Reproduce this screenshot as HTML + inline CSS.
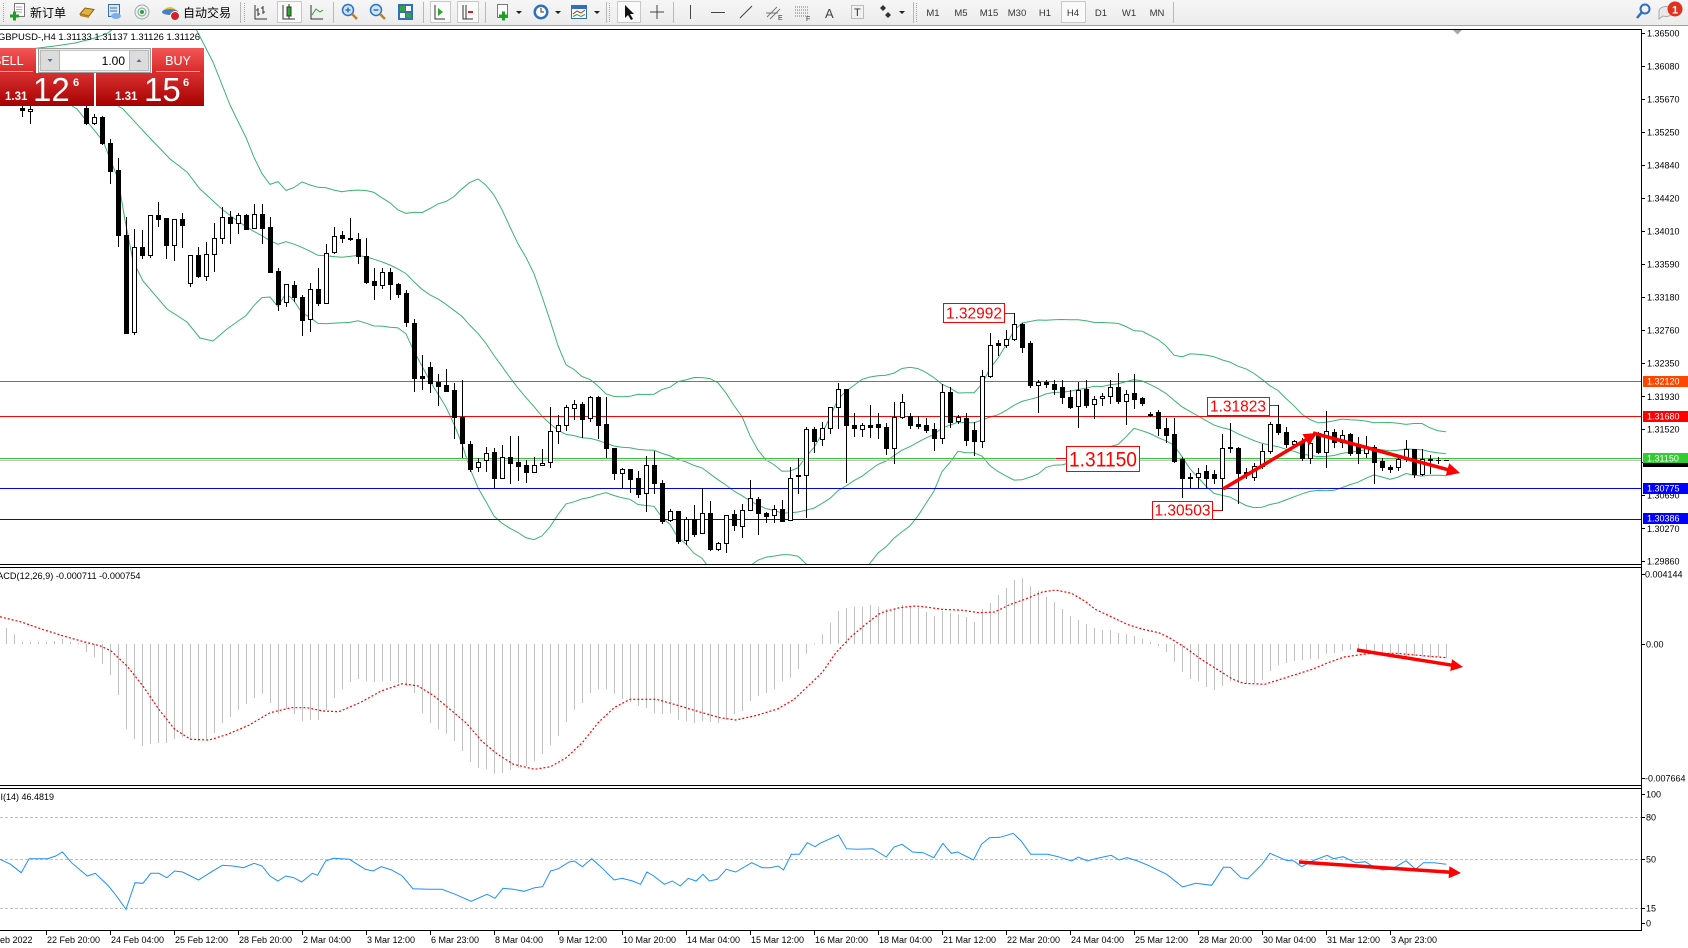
<!DOCTYPE html>
<html><head><meta charset="utf-8"><title>GBPUSD H4</title>
<style>
html,body{margin:0;padding:0;background:#fff;overflow:hidden;width:1688px;height:948px}
svg{display:block}
text{font-family:"Liberation Sans","Noto Sans CJK SC",sans-serif}
</style></head><body>
<svg width="1688" height="948" viewBox="0 0 1688 948" xmlns="http://www.w3.org/2000/svg">
<defs>
<clipPath id="cm"><rect x="0" y="30" width="1641" height="534"/></clipPath>
<clipPath id="cd"><rect x="0" y="568" width="1641" height="217"/></clipPath>
<clipPath id="cr"><rect x="0" y="789" width="1641" height="141"/></clipPath>
<linearGradient id="gb" x1="0" y1="0" x2="0" y2="1"><stop offset="0" stop-color="#f45656"/><stop offset="1" stop-color="#d82828"/></linearGradient>
<linearGradient id="gp" x1="0" y1="0" x2="0" y2="1"><stop offset="0" stop-color="#d83030"/><stop offset="1" stop-color="#a60000"/></linearGradient>
<linearGradient id="tb" x1="0" y1="0" x2="0" y2="1"><stop offset="0" stop-color="#f6f6f6"/><stop offset="1" stop-color="#ececec"/></linearGradient>
</defs>
<rect width="1688" height="948" fill="#fff"/>

<!-- TOOLBAR -->
<rect x="0" y="0" width="1688" height="25" fill="url(#tb)"/>
<rect x="0" y="25" width="1688" height="1" fill="#a0a0a0"/>
<g stroke="#a0a0a0" stroke-dasharray="1 1">
<line x1="3.5" y1="3" x2="3.5" y2="22"/><line x1="244.5" y1="3" x2="244.5" y2="22"/>
<line x1="609.5" y1="3" x2="609.5" y2="22"/><line x1="916.5" y1="3" x2="916.5" y2="22"/>
</g>
<g fill="#b8b8b8">
<rect x="240" y="2" width="1" height="21"/><rect x="333" y="2" width="1" height="21"/><rect x="423" y="2" width="1" height="21"/>
<rect x="485" y="2" width="1" height="21"/><rect x="606" y="2" width="1" height="21"/><rect x="673" y="2" width="1" height="21"/>
<rect x="913" y="2" width="1" height="21"/><rect x="1173" y="2" width="1" height="21"/>
</g>
<!-- new order -->
<rect x="14.5" y="3.5" width="10" height="13" fill="#fff" stroke="#777"/>
<path d="M16 7h6M16 9.5h6M16 12h6" stroke="#aaa"/>
<path d="M10 16h9M14.5 11.5v9" stroke="#1f9f1f" stroke-width="3"/>
<text x="30" y="17" font-size="12" fill="#000">新订单</text>
<path d="M80 14 L85 8 L94 9.5 L89 16 Z" fill="#e0b040" stroke="#8a6010"/><path d="M80 14 L89 16 L89 18 L80 16 Z" fill="#b88820"/>
<rect x="108.5" y="4.5" width="11" height="12" fill="#dbe9f7" stroke="#3a6ea8"/><path d="M110 8h7M110 11h7" stroke="#3a6ea8"/><ellipse cx="116" cy="16" rx="5" ry="3" fill="#7ab0e8"/>
<circle cx="142" cy="12" r="7" fill="none" stroke="#9aa"/><circle cx="142" cy="12" r="4" fill="none" stroke="#7a9"/><circle cx="142" cy="12" r="2" fill="#3a9a3a"/>
<path d="M162 12 Q170 2 178 12 Z" fill="#e8c030"/><ellipse cx="170" cy="12" rx="8" ry="3" fill="#4a7fc8"/><circle cx="175" cy="16" r="4.5" fill="#d82020" stroke="#fff"/>
<text x="183" y="17" font-size="12" fill="#000">自动交易</text>
<!-- chart type -->
<path d="M255 5v14h12M258 8v8M256 10h2M258 14h2M263 6v8M261 8h2M263 12h2" stroke="#333" fill="none"/>
<rect x="277.5" y="1.5" width="24" height="21" fill="#fafafa" stroke="#c8c8c8"/>
<path d="M283 5v14h12" stroke="#333" fill="none"/><path d="M289 4v15" stroke="#333"/><rect x="287" y="7" width="4" height="9" fill="#2da82d" stroke="#333"/>
<path d="M311 5v14h12" stroke="#333" fill="none"/><path d="M312 15 L316 9 L320 12 L323 10" stroke="#2da82d" fill="none"/>
<circle cx="348" cy="10" r="5.5" fill="#cfe6ff" stroke="#2e6fc0" stroke-width="1.5"/><path d="M352 14 L357 19" stroke="#c08020" stroke-width="2.5"/><path d="M345.5 10h5M348 7.5v5" stroke="#2e6fc0" stroke-width="1.5"/>
<circle cx="376" cy="10" r="5.5" fill="#cfe6ff" stroke="#2e6fc0" stroke-width="1.5"/><path d="M380 14 L385 19" stroke="#c08020" stroke-width="2.5"/><path d="M373.5 10h5" stroke="#2e6fc0" stroke-width="1.5"/>
<rect x="398" y="4" width="15" height="16" fill="#2f6fc0"/><rect x="400" y="6" width="5" height="5" fill="#3aa040"/><rect x="406" y="6" width="5" height="5" fill="#fff"/><rect x="400" y="13" width="5" height="5" fill="#fff"/><rect x="406" y="13" width="5" height="5" fill="#3aa040"/>
<rect x="430.5" y="1.5" width="20" height="21" fill="#fafafa" stroke="#c8c8c8"/><path d="M435 5v14h10" stroke="#333" fill="none"/><path d="M438 8v8l5-4z" fill="#2da82d"/>
<rect x="457.5" y="1.5" width="21" height="21" fill="#fafafa" stroke="#c8c8c8"/><path d="M463 5v14h10M466 5v14" stroke="#333" fill="none"/><path d="M468 12h5" stroke="#d02020" stroke-width="2"/>
<rect x="497.5" y="4.5" width="10" height="13" fill="#fff" stroke="#777"/><path d="M499 16h9M503.5 11.5v9" stroke="#1f9f1f" stroke-width="3"/>
<circle cx="541" cy="12" r="7.5" fill="#2f6fc0"/><circle cx="541" cy="12" r="5" fill="#fff"/><path d="M541 8v4h3" stroke="#333" fill="none"/>
<rect x="571.5" y="5.5" width="15" height="13" fill="#fff" stroke="#2f6fc0"/><rect x="572" y="6" width="14" height="3" fill="#2f6fc0"/><path d="M573 14 L577 11 L581 13 L585 10" stroke="#c03030" fill="none"/><path d="M573 16.5 L577 14.5 L581 16.5 L585 14.5" stroke="#30a030" fill="none"/>
<path d="M516 11h6l-3 3z M555 11h6l-3 3z M594 11h6l-3 3z M899 11h6l-3 3z" fill="#222"/>
<rect x="617.5" y="1.5" width="23" height="21" fill="#fafafa" stroke="#c8c8c8"/>
<path d="M625 5 L625 18 L628 15 L631 20 L633 19 L630 14 L634 14 Z" fill="#111"/>
<path d="M657 5v14M650 12h14" stroke="#444"/>
<path d="M690.5 5v14M711 12.5h14M740 18 L752 6" stroke="#444"/>
<path d="M767 17 L777 7M770 19 L780 9M766 13h12" stroke="#777"/><text x="778" y="20" font-size="7" fill="#333">E</text>
<path d="M795 7h13M795 10h13M795 13h13M795 16h13" stroke="#777" stroke-dasharray="1 1"/><text x="806" y="21" font-size="7" fill="#333">F</text>
<text x="825" y="18" font-size="13" fill="#444">A</text>
<rect x="851.5" y="5.5" width="12" height="13" fill="none" stroke="#888" stroke-dasharray="1 1"/><text x="854" y="16" font-size="11" fill="#333">T</text>
<path d="M880 8l3-3 3 3-3 3z M885 15l3-3 3 3-3 3z" fill="#333"/>
<g font-size="9.5" fill="#333" text-anchor="middle">
<rect x="1061.5" y="1.5" width="24" height="21" fill="#fafafa" stroke="#c8c8c8"/>
<text x="933" y="16">M1</text><text x="961" y="16">M5</text><text x="989" y="16">M15</text><text x="1017" y="16">M30</text><text x="1045" y="16">H1</text><text x="1073" y="16">H4</text><text x="1101" y="16">D1</text><text x="1129" y="16">W1</text><text x="1157" y="16">MN</text>
</g>
<circle cx="1645" cy="9" r="4.5" fill="none" stroke="#2f6fc0" stroke-width="2"/><path d="M1642 12 L1637 18" stroke="#2f6fc0" stroke-width="2.5"/>
<path d="M1659 11 a7 5 0 1 1 4 5 l-4 3 z" fill="#e8e8e8" stroke="#aaa"/>
<circle cx="1675" cy="9" r="7.5" fill="#e0301e"/><text x="1675" y="13.5" font-size="11" font-weight="bold" fill="#fff" text-anchor="middle">1</text>

<!-- CHART FRAME -->
<g shape-rendering="crispEdges" fill="#000">
<rect x="0" y="29" width="1642" height="1"/>
<rect x="1641" y="29" width="1" height="902"/>
<rect x="0" y="564" width="1642" height="1"/>
<rect x="0" y="567" width="1642" height="1"/>
<rect x="0" y="785" width="1642" height="1"/>
<rect x="0" y="788" width="1642" height="1"/>
<rect x="0" y="930" width="1642" height="1"/>
</g>
<path d="M1453 30h9l-4.5 4.5z" fill="#a8a8a8"/>

<!-- MAIN CHART -->
<g clip-path="url(#cm)">
<g id="bands" fill="none" stroke="#3cb371" stroke-width="1"></g>
<g shape-rendering="crispEdges">
<rect x="0" y="381" width="1641" height="1" fill="#ff4500"/>
<rect x="0" y="416" width="1641" height="1" fill="#ff0000"/>
<rect x="0" y="460" width="1641" height="1" fill="#c0c0c0"/>
<rect x="0" y="458" width="1641" height="1" fill="#32cd32"/>
<rect x="0" y="488" width="1641" height="1" fill="#0000ff"/>
<rect x="0" y="519" width="1641" height="1" fill="#0000ff"/>
</g>
<g id="candles" shape-rendering="crispEdges"></g>
<g id="arrowsM" fill="#ff0000"></g>
<!-- annotation labels -->
<g shape-rendering="crispEdges">
<rect x="1004" y="313" width="10" height="1" fill="#f00"/>
<rect x="943.5" y="303.5" width="61" height="19" fill="#fff" stroke="#f00"/>
<rect x="1269" y="405" width="9" height="1" fill="#f00"/>
<rect x="1207.5" y="397.5" width="62" height="18" fill="#fff" stroke="#f00"/>
<rect x="1212" y="510" width="10" height="1" fill="#f00"/>
<rect x="1152.5" y="501.5" width="60" height="18" fill="#fff" stroke="#f00"/>
<rect x="1056" y="458" width="10" height="1" fill="#f00"/>
<rect x="1066.5" y="446.5" width="73" height="25" fill="#fff" stroke="#f00"/>
</g>
<g fill="#f00">
<text x="946" y="318.5" font-size="16" textLength="56" lengthAdjust="spacingAndGlyphs">1.32992</text>
<text x="1210" y="411.5" font-size="16" textLength="56" lengthAdjust="spacingAndGlyphs">1.31823</text>
<text x="1154.5" y="515.5" font-size="16" textLength="56" lengthAdjust="spacingAndGlyphs">1.30503</text>
<text x="1069" y="466.5" font-size="21" textLength="68" lengthAdjust="spacingAndGlyphs">1.31150</text>
</g>
</g>
<text x="-2" y="40" font-size="9" fill="#000" textLength="202" lengthAdjust="spacingAndGlyphs">GBPUSD-,H4  1.31133 1.31137 1.31126 1.31126</text>

<!-- ONE CLICK PANEL -->
<rect x="-6" y="48" width="42" height="25" fill="url(#gb)"/>
<rect x="-3" y="71" width="36" height="1" fill="#f7a8a8"/>
<text x="-7" y="65" font-size="12.5" fill="#fff">SELL</text>
<rect x="38.5" y="48.5" width="112" height="24" fill="#ececec" stroke="#9c9c9c"/>
<rect x="59.5" y="50.5" width="70" height="20" fill="#fff" stroke="#c8c8c8"/>
<rect x="40.5" y="50.5" width="19" height="20" fill="#dcdcdc" stroke="#b8b8b8"/>
<rect x="129.5" y="50.5" width="19" height="20" fill="#dcdcdc" stroke="#b8b8b8"/>
<path d="M47.5 59h5l-2.5 3z" fill="#5a6aa0"/><path d="M136.5 62h5l-2.5-3z" fill="#5a6aa0"/>
<text x="125" y="65" font-size="12" text-anchor="end" fill="#000">1.00</text>
<rect x="152" y="48" width="52" height="25" fill="url(#gb)"/>
<rect x="156" y="71" width="44" height="1" fill="#f7a8a8"/>
<text x="178" y="65" font-size="12.5" fill="#fff" text-anchor="middle">BUY</text>
<rect x="-2" y="73" width="96" height="33" fill="url(#gp)"/>
<rect x="96" y="73" width="108" height="33" fill="url(#gp)"/>
<g fill="#fff">
<text x="5" y="100" font-size="11.5" font-weight="bold">1.31</text>
<text x="33" y="101" font-size="33">12</text>
<text x="73" y="86" font-size="11" font-weight="bold">6</text>
<text x="115" y="100" font-size="11.5" font-weight="bold">1.31</text>
<text x="144" y="101" font-size="33">15</text>
<text x="183" y="86" font-size="11" font-weight="bold">6</text>
</g>

<!-- PRICE AXIS -->
<g shape-rendering="crispEdges" fill="#000" id="pticks"></g>
<g font-size="9" fill="#000">
<text x="1647" y="36.5">1.36500</text><text x="1647" y="69.5">1.36080</text><text x="1647" y="102.5">1.35670</text>
<text x="1647" y="135.5">1.35250</text><text x="1647" y="168.5">1.34840</text><text x="1647" y="201.5">1.34420</text>
<text x="1647" y="234.5">1.34010</text><text x="1647" y="267.5">1.33590</text><text x="1647" y="300.5">1.33180</text>
<text x="1647" y="333.5">1.32760</text><text x="1647" y="366.5">1.32350</text><text x="1647" y="400">1.31930</text>
<text x="1647" y="432.5">1.31520</text><text x="1647" y="465.5">1.31100</text><text x="1647" y="498.5">1.30690</text>
<text x="1647" y="532">1.30270</text><text x="1647" y="564.5">1.29860</text>
</g>
<g shape-rendering="crispEdges">
<rect x="1643" y="376" width="45" height="11" fill="#ff4500"/>
<rect x="1643" y="411" width="45" height="11" fill="#ff0000"/>
<rect x="1643" y="455" width="45" height="12" fill="#000"/>
<rect x="1643" y="453" width="45" height="10" fill="#32cd32"/>
<rect x="1643" y="483" width="45" height="11" fill="#0000ff"/>
<rect x="1643" y="513" width="45" height="11" fill="#0000ff"/>
</g>
<g font-size="9" fill="#fff">
<text x="1647" y="384.5">1.32120</text><text x="1647" y="419.5">1.31680</text><text x="1647" y="461.5">1.31150</text>
<text x="1647" y="491.5">1.30775</text><text x="1647" y="521.5">1.30386</text>
</g>

<!-- MACD -->
<g clip-path="url(#cd)">
<g id="hist" shape-rendering="crispEdges" fill="#c0c0c0"></g>
<path id="sig" fill="none" stroke="#ff0000" stroke-width="1.2" stroke-dasharray="2 2"/>
<g id="arrowsD" fill="#ff0000"></g>
</g>
<text x="-10.5" y="579" font-size="9" fill="#000" textLength="151" lengthAdjust="spacingAndGlyphs">MACD(12,26,9) -0.000711 -0.000754</text>
<g font-size="9" fill="#000">
<text x="1645" y="577.5">0.004144</text><text x="1646" y="647.5">0.00</text><text x="1645" y="781.5">-0.007664</text>
</g>

<!-- RSI -->
<g clip-path="url(#cr)">
<g stroke="#c0c0c0" stroke-dasharray="3 2" shape-rendering="crispEdges">
<line x1="0" y1="817.5" x2="1641" y2="817.5"/><line x1="0" y1="859.5" x2="1641" y2="859.5"/><line x1="0" y1="908.5" x2="1641" y2="908.5"/>
</g>
<path id="rsi" fill="none" stroke="#1e90ff" stroke-width="1"/>
<g id="arrowsR" fill="#ff0000"></g>
</g>
<text x="-12" y="800" font-size="9" fill="#000">RSI(14) 46.4819</text>
<g font-size="9" fill="#000">
<text x="1646" y="797.5">100</text><text x="1646" y="820.5">80</text><text x="1646" y="862.5">50</text><text x="1646" y="911.5">15</text><text x="1646" y="926.5">0</text>
</g>

<!-- TIME AXIS -->
<g id="tticks" shape-rendering="crispEdges" fill="#000"></g>
<g font-size="9" fill="#000">
<text x="-18" y="943">21 Feb 2022</text><text x="47" y="943">22 Feb 20:00</text><text x="111" y="943">24 Feb 04:00</text>
<text x="175" y="943">25 Feb 12:00</text><text x="239" y="943">28 Feb 20:00</text><text x="303" y="943">2 Mar 04:00</text>
<text x="367" y="943">3 Mar 12:00</text><text x="431" y="943">6 Mar 23:00</text><text x="495" y="943">8 Mar 04:00</text>
<text x="559" y="943">9 Mar 12:00</text><text x="623" y="943">10 Mar 20:00</text><text x="687" y="943">14 Mar 04:00</text>
<text x="751" y="943">15 Mar 12:00</text><text x="815" y="943">16 Mar 20:00</text><text x="879" y="943">18 Mar 04:00</text>
<text x="943" y="943">21 Mar 12:00</text><text x="1007" y="943">22 Mar 20:00</text><text x="1071" y="943">24 Mar 04:00</text>
<text x="1135" y="943">25 Mar 12:00</text><text x="1199" y="943">28 Mar 20:00</text><text x="1263" y="943">30 Mar 04:00</text>
<text x="1327" y="943">31 Mar 12:00</text><text x="1391" y="943">3 Apr 23:00</text>
</g>
</svg>
<script>
(function(){
var raw="2 b 108 110 100 116|3 w 109 111 104 123|10 b 108 123 100 124|11 w 117 123 114 124|12 b 117 143 116 144|13 b 143 171 139 183|14 b 170 235 158 246|15 b 235 333 217 333|16 w 247 332 229 334|17 b 247 255 230 258|18 w 215 255 215 257|19 b 215 219 202 226|20 b 218 245 218 258|21 w 219 245 219 260|22 b 219 225 213 247|23 w 255 283 255 286|24 b 255 276 247 277|25 w 254 276 242 280|26 w 238 254 223 271|27 w 217 238 207 243|28 b 217 223 211 243|29 w 215 223 213 233|30 b 215 229 214 229|31 w 214 228 204 228|32 b 214 228 204 243|33 b 227 272 217 272|34 b 271 304 268 310|35 w 284 302 284 306|36 b 285 297 281 301|37 b 297 320 295 335|38 w 289 319 283 331|39 b 289 303 268 305|40 w 253 303 244 303|41 w 236 252 227 253|42 b 235 238 231 242|43 b 238 239 218 240|44 b 239 256 233 263|45 b 256 282 238 283|46 b 281 285 268 299|47 w 272 285 268 288|48 b 272 284 268 299|49 b 284 294 283 297|50 b 293 322 290 326|51 b 323 378 319 391|52 b 376 378 355 389|53 b 367 383 362 392|54 b 382 386 374 405|55 b 385 391 369 391|56 b 390 417 383 438|57 b 417 443 380 457|58 b 444 469 441 471|59 w 462 467 458 471|60 w 453 460 447 471|61 b 452 478 448 487|62 w 457 478 445 478|63 b 457 463 436 483|64 b 462 466 436 480|65 b 465 472 460 482|66 w 465 472 457 472|67 w 463 465 449 465|68 w 431 462 407 467|69 w 425 431 415 443|70 w 407 425 405 430|71 w 404 408 400 419|72 b 404 419 402 437|73 w 397 418 396 421|74 b 397 425 396 438|75 b 424 448 397 457|76 b 448 473 448 479|77 w 469 473 468 488|78 b 469 479 469 492|79 b 478 494 471 497|80 w 465 493 456 511|81 b 465 483 451 493|82 b 483 521 480 523|83 w 511 520 509 521|84 b 511 541 511 543|85 w 519 540 517 544|86 b 519 534 505 536|87 w 513 533 488 533|88 b 513 549 501 550|89 w 543 549 542 550|90 w 515 543 515 552|91 b 514 525 510 530|92 w 510 526 504 537|93 w 498 510 480 510|94 b 499 513 497 534|95 b 513 516 512 522|96 w 509 515 505 522|97 b 509 521 500 521|98 w 478 520 467 520|99 b 475 476 458 493|100 w 429 475 427 517|101 b 429 441 427 452|102 w 428 439 422 445|103 w 407 428 407 433|104 w 389 407 383 428|105 b 389 425 389 482|106 b 425 428 413 436|107 w 425 429 423 436|108 b 425 427 405 437|109 b 424 427 413 438|110 b 427 448 423 454|111 w 417 448 402 463|112 w 402 417 394 418|113 b 416 425 413 428|114 b 424 426 416 428|115 b 425 430 418 432|116 b 429 438 423 450|117 w 392 438 384 443|118 b 392 422 387 427|119 w 417 421 415 423|120 b 418 440 413 445|121 b 430 441 422 455|122 w 376 441 370 447|123 w 345 376 333 377|124 b 343 345 340 355|125 w 339 345 330 347|126 w 324 339 313 340|127 b 324 347 323 352|128 b 343 385 341 387|129 w 382 385 380 412|130 b 382 384 380 387|131 b 384 389 380 394|132 b 387 397 380 403|133 b 397 407 390 408|134 w 390 406 382 427|135 b 389 405 380 407|136 w 399 404 396 418|137 w 396 398 393 405|138 w 387 396 380 403|139 b 387 401 373 403|140 w 394 401 390 424|141 b 393 399 374 408|142 b 398 403 397 405|143 b 414 415 412 416|144 b 412 428 410 435|145 b 428 435 418 442|146 b 434 461 418 462|147 b 459 478 457 497|148 w 477 478 473 487|149 w 473 477 468 487|150 b 471 478 465 487|151 b 474 478 470 483|152 w 448 478 434 510|153 w 447 448 423 452|154 b 448 473 447 503|155 b 472 474 468 478|156 w 466 477 463 480|157 w 451 466 444 468|158 w 424 451 422 453|159 b 424 432 405 434|160 b 432 444 427 447|161 w 441 444 440 445|162 b 442 458 438 460|163 w 443 458 440 463|164 b 433 452 432 453|165 w 431 452 411 467|166 b 432 442 429 447|167 w 435 442 430 447|168 b 434 453 433 455|169 b 444 453 437 463|170 w 448 453 436 457|171 b 447 462 445 483|172 b 461 467 458 470|173 b 467 469 465 472|174 w 459 467 458 470|175 w 449 459 440 461|176 b 449 474 449 477|177 w 459 474 449 475|178 b 459 460 455 473|179 w 460 460 457 463|180 b 460 460 460 460";
function X(n){return 6+8*n;}
var C=raw.split('|').map(function(l){var a=l.split(' ');return {n:+a[0],t:a[1],bt:+a[2],bb:+a[3],wt:+a[4],wb:+a[5]};});
var s='',close={};
C.forEach(function(c){
  var x=X(c.n),h=c.bb-c.bt;
  close[c.n]=(c.t==='w')?c.bt:c.bb;
  s+='<rect x="'+x+'" y="'+c.wt+'" width="1" height="'+(c.wb-c.wt+1)+'" fill="#000"/>';
  if(c.t==='b'||h<2){s+='<rect x="'+(x-2)+'" y="'+c.bt+'" width="5" height="'+Math.max(1,h+1)+'" fill="#000"/>';}
  else{s+='<rect x="'+(x-1.5)+'" y="'+(c.bt+0.5)+'" width="4" height="'+h+'" fill="#fff" stroke="#000"/>';}
});
document.getElementById('candles').innerHTML=s;
// Bollinger
var up=[[196,29],[213,62],[230,105]],mid=[[118,106],[123,109],[147,135],[170,159],[187,172],[200,189],[223,210]],lo=[[72,106],[77,109],[103,141],[118,179],[125,220],[133,261],[143,281],[167,309],[187,322],[200,338],[213,341],[227,329]];
for(var n=29;n<=180;n++){var sum=0,i;for(i=n-19;i<=n;i++)sum+=close[i];var m=sum/20,v=0;for(i=n-19;i<=n;i++)v+=(close[i]-m)*(close[i]-m);var sd=Math.sqrt(v/20);
 up.push([X(n),m-2*sd]);mid.push([X(n),m]);lo.push([X(n),m+2*sd]);}
function P(a){return 'M'+a.map(function(p){return p[0].toFixed(1)+' '+p[1].toFixed(1);}).join('L');}
var seg1=[[30,49],[55,46],[75,43],[95,38],[108,33],[114,28]];
document.getElementById('bands').innerHTML='<path d="'+P(seg1)+'"/><path d="'+P(up)+'"/><path d="'+P(mid)+'"/><path d="'+P(lo)+'"/>';
// MACD histogram
var H=[185,203,228,228,228,228,226,220,228,232,258,272,293,328,388,488,518,540,535,532,530,520,512,520,525,518,500,472,452,432,415,395,385,410,443,430,445,465,462,462,432,395,370,348,340,345,348,345,345,350,360,380,442,470,490,505,525,555,588,605,610,625,620,612,605,600,585,565,538,510,468,432,410,380,370,370,385,398,408,420,425,440,445,442,462,465,470,465,468,472,462,445,435,405,390,382,368,345,335,308,263,232,205,172,135,125,123,122,118,123,128,128,118,122,125,138,150,135,142,145,152,168,128,112,88,65,42,35,60,75,93,108,128,150,162,175,185,192,192,202,205,210,220,228,240,258,288,318,340,345,362,372,360,345,350,355,352,342,315,298,290,285,282,280,278,265,262,255,252,255,262,268,268,272,268,272,270,272,275,272,275];
var hs='',z=644;
H.forEach(function(Y,n){var y=Math.round(566+Y/3);var a=Math.min(y,z),b=Math.max(y,z);if(b-a<1)return;hs+='<rect x="'+X(n)+'" y="'+a+'" width="1" height="'+(b-a)+'"/>';});
document.getElementById('hist').innerHTML=hs;
var sA=[[0,152],[40,168],[80,190],[120,210],[160,228],[190,240],[210,255],[240,300],[270,360],[300,430],[330,490],[360,520],[395,522],[430,505],[470,478],[510,440],[550,425],[580,425],[610,435],[640,437],[680,410],[720,375],[760,353],[790,360],[820,390],[850,430],[880,470],[910,525],[940,565],[970,595],[1010,610],[1040,602],[1070,575],[1100,530],[1130,470],[1160,425],[1190,400],[1240,400],[1280,418],[1320,437],[1360,455],[1390,462],[1430,448],[1470,428],[1500,400],[1530,355]];
var sB=[[5,318],[30,260],[60,210],[90,170],[115,140],[150,125],[180,120],[200,123],[230,130],[270,133],[300,140],[330,138],[360,115],[390,98],[420,78],[445,72],[475,82],[500,105],[520,130],[550,152],[580,175],[610,190],[640,200],[660,215],[690,245],[720,280],[750,310],[780,340],[800,352],[840,355],[870,340],[900,325],[930,310],[960,290],[990,273],[1040,262],[1090,262],[1130,268],[1183,275]];
function conv(a,off){return a.map(function(p){return [off+p[0]/1.889,566+p[1]/3];});}
document.getElementById('sig').setAttribute('d',P(conv(sA,0).concat(conv(sB,820))));
var rA=[[0,880],[20,895],[40,920],[55,878],[75,878],[90,878],[105,870],[118,858],[135,890],[165,930],[180,922],[205,960],[220,990],[238,1030],[255,950],[270,952],[285,922],[300,922],[315,935],[330,915],[345,918],[375,942],[395,922],[420,898],[440,900],[460,905],[480,892],[495,900],[510,930],[525,945],[540,930],[555,935],[570,948],[590,922],[600,928],[615,885],[630,877],[660,880],[690,910],[705,915],[720,902],[740,912],[760,930],[780,968],[810,970],[835,970],[860,985],[890,1006],[920,985],[935,997],[950,967],[970,970],[990,976],[1010,965],[1025,962],[1040,915],[1055,908],[1075,888],[1085,885],[1100,902],[1118,878],[1140,910],[1160,942],[1175,937],[1195,945],[1210,955],[1222,918],[1235,930],[1255,955],[1270,945],[1285,960],[1300,937],[1315,945],[1328,925],[1340,945],[1355,940],[1372,910],[1390,918],[1420,890],[1440,905],[1455,905],[1470,900],[1480,912],[1495,865],[1510,865],[1525,830],[1540,842]];
var rB=[[0,832],[35,807],[50,848],[70,850],[100,848],[125,873],[140,843],[155,835],[175,858],[195,860],[215,875],[232,832],[248,862],[260,858],[290,882],[305,835],[320,815],[340,814],[365,802],[380,825],[398,865],[430,865],[450,872],[475,885],[488,873],[505,885],[520,878],[550,868],[565,882],[580,875],[600,885],[620,898],[655,925],[685,963],[710,952],[740,958],[762,904],[775,904],[795,935],[808,938],[835,895],[850,862],[880,883],[895,885],[910,902],[930,885],[958,868],[970,878],[988,872],[1012,890],[1030,887],[1045,902],[1062,912],[1080,910],[1107,884],[1125,910],[1140,890],[1160,890],[1183,895]];
document.getElementById('rsi').setAttribute('d',P(conv(rA,0).concat(conv(rB,820))));
// arrows
function arrow(x1,y1,x2,y2,w,hl,hw){var dx=x2-x1,dy=y2-y1,L=Math.sqrt(dx*dx+dy*dy),ux=dx/L,uy=dy/L,px=-uy,py=ux;
 var bx=x2-ux*hl,by=y2-uy*hl;
 var pts=[[x1+px*w/2,y1+py*w/2],[bx+px*w/2,by+py*w/2],[bx+px*hw,by+py*hw],[x2,y2],[bx-px*hw,by-py*hw],[bx-px*w/2,by-py*w/2],[x1-px*w/2,y1-py*w/2]];
 return '<path d="'+P(pts)+'Z"/>';}
document.getElementById('arrowsM').innerHTML=arrow(1223,489,1317,433,3.5,13,6.5)+arrow(1313,433,1460,473,3.5,13,6.5);
document.getElementById('arrowsD').innerHTML=arrow(1357,650,1463,667,3.5,12,6);
document.getElementById('arrowsR').innerHTML=arrow(1299,862,1461,873,3.5,12,6);
// ticks
var pt='',ys=[33,66,99,132,165,198,231,264,297,330,363,396,429,462,495,528,561,574,644,778,794,817,859,908,923];
ys.forEach(function(y){pt+='<rect x="1642" y="'+y+'" width="3" height="1"/>';});
document.getElementById('pticks').innerHTML=pt;
var tt='';for(var k=-1;k<=21;k++){tt+='<rect x="'+(46+64*k)+'" y="931" width="1" height="4"/>';}
document.getElementById('tticks').innerHTML=tt;
})();
</script>
</body></html>
